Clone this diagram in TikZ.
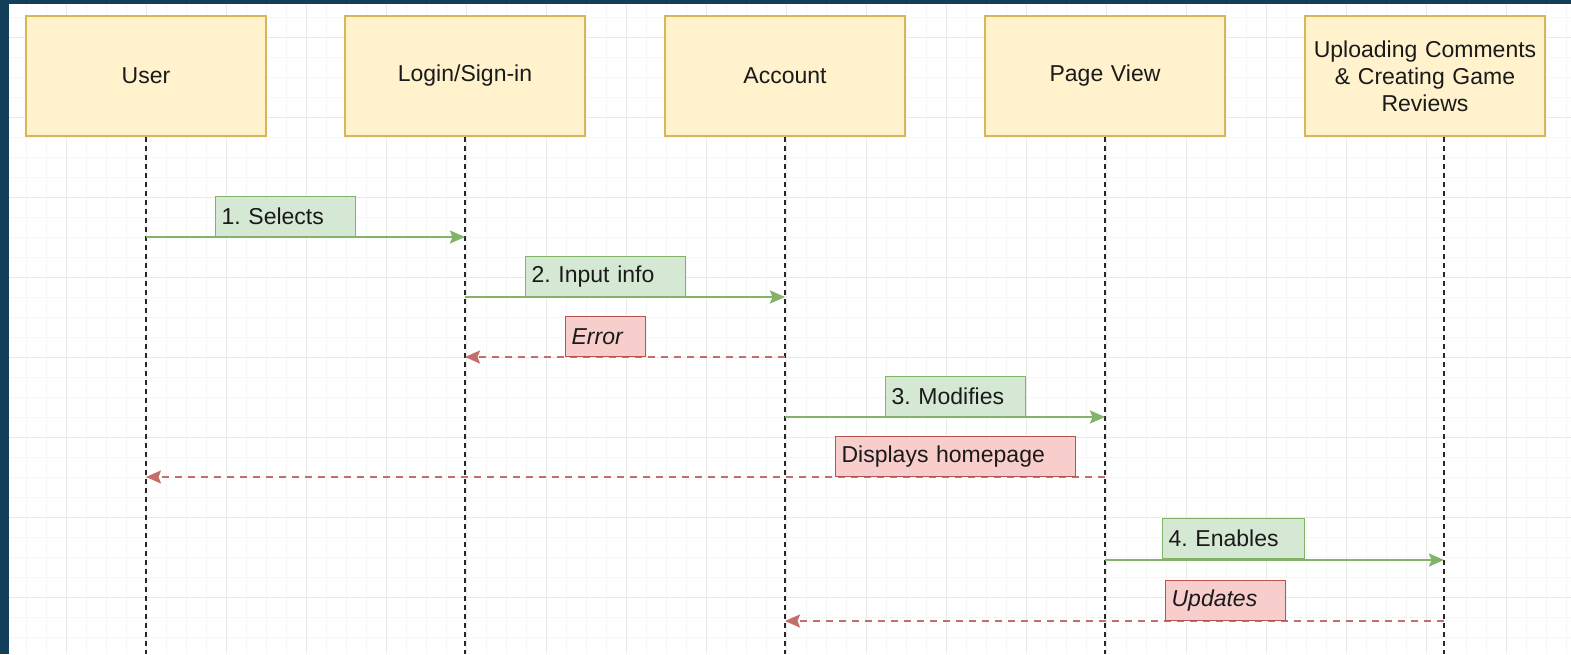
\documentclass[tikz,border=0pt]{standalone}
\usepackage{fontspec}
\setmainfont{Liberation Sans}
\usetikzlibrary{arrows.meta}
\definecolor{bgblue}{HTML}{123F5A}
\definecolor{gridmin}{HTML}{F6F6F6}
\definecolor{gridmaj}{HTML}{EAEAEA}
\definecolor{boxfill}{HTML}{FFF2CC}
\definecolor{boxdraw}{HTML}{D6B656}
\definecolor{gfill}{HTML}{D5E8D4}
\definecolor{gdraw}{HTML}{82B366}
\definecolor{rfill}{HTML}{F8CECC}
\definecolor{rdraw}{HTML}{B85450}
\definecolor{txt}{HTML}{1A1A1A}
\tikzset{
  actor/.style={draw=boxdraw, fill=boxfill, line width=1.5pt, minimum width=240pt, minimum height=120pt, text width=230pt, align=center, text=txt, font=\fontsize{23}{27}\selectfont, inner sep=0pt},
  life/.style={draw=black!85, line width=2pt, dash pattern=on 5pt off 4pt},
  glab/.style={draw=gdraw, fill=gfill, line width=1.2pt, minimum height=40pt, align=left, inner xsep=6pt, inner ysep=0pt, text=txt, font=\fontsize{23}{27}\selectfont, anchor=south west},
  rlab/.style={draw=rdraw, fill=rfill, line width=1.2pt, minimum height=40pt, align=left, inner xsep=6pt, inner ysep=0pt, text=txt, font=\fontsize{23}{27}\selectfont\itshape, anchor=south west},
  rlabup/.style={rlab, font=\fontsize{23}{27}\selectfont},
  garrow/.style={draw=gdraw, line width=2pt, -{Stealth[length=15pt,width=13pt,inset=2.5pt]}},
  rarrow/.style={draw=rdraw!85, line width=2pt, dash pattern=on 7pt off 6pt, -{Stealth[length=15pt,width=13pt,inset=2.5pt]}},
}
\begin{document}
\frenchspacing
\begin{tikzpicture}[x=1pt,y=-1pt]
\useasboundingbox (0,0) rectangle (1571,654);
\fill[bgblue] (0,0) rectangle (1571,654);
\fill[white] (9,4) rectangle (1571,654);
% grid
\foreach \x in {6,26,...,1566} \draw[gridmin, line width=1pt] (\x,4) -- (\x,654);
\foreach \y in {17,37,...,654} \draw[gridmin, line width=1pt] (9,\y) -- (1571,\y);
\foreach \x in {66,146,...,1566} \draw[gridmaj, line width=1pt] (\x,4) -- (\x,654);
\foreach \y in {37,117,...,654} \draw[gridmaj, line width=1pt] (9,\y) -- (1571,\y);
\fill[bgblue] (0,0) rectangle (9,654);
% actors
\node[actor] (user) at (146,76) {User};
\node[actor] (login) at (465,76) {Login/Sign-in};
\node[actor] (acct) at (785,76) {Account};
\node[actor] (page) at (1105,76) {Page View};
\node[actor] (upl) at (1425,76) {Uploading Comments\\\& Creating Game\\Reviews};
% lifeline anchors
\coordinate (uT) at (146,137); \coordinate (uB) at (146,654);
\coordinate (lT) at (465,137); \coordinate (lB) at (465,654);
\coordinate (aT) at (785,137); \coordinate (aB) at (785,654);
\coordinate (pT) at (1105,137); \coordinate (pB) at (1105,654);
\coordinate (cT) at (1444,137); \coordinate (cB) at (1444,654);
\draw[life] (uT) -- (uB);
\draw[life] (lT) -- (lB);
\draw[life] (aT) -- (aB);
\draw[life] (pT) -- (pB);
\draw[life] (cT) -- (cB);
% message end points
\coordinate (m1s) at (146,237); \coordinate (m1e) at (465,237);
\coordinate (m2s) at (465,297); \coordinate (m2e) at (785,297);
\coordinate (m3s) at (785,357); \coordinate (m3e) at (465,357);
\coordinate (m4s) at (785,417); \coordinate (m4e) at (1105,417);
\coordinate (m5s) at (1105,477); \coordinate (m5e) at (146,477);
\coordinate (m6s) at (1105,560); \coordinate (m6e) at (1444,560);
\coordinate (m7s) at (1444,621); \coordinate (m7e) at (785,621);
\draw[garrow] (m1s) -- (m1e);
\draw[garrow] (m2s) -- (m2e);
\draw[rarrow] (m3s) -- (m3e);
\draw[garrow] (m4s) -- (m4e);
\draw[rarrow] (m5s) -- (m5e);
\draw[garrow] (m6s) -- (m6e);
\draw[rarrow] (m7s) -- (m7e);
% labels
\node[glab, text width=128pt] (l1) at (215,237) {1. Selects};
\node[glab, text width=148pt] (l2) at (525,297) {2. Input info};
\node[rlab, text width=68pt] (l3) at (565,357) {Error};
\node[glab, text width=128pt] (l4) at (885,417) {3. Modifies};
\node[rlabup, text width=228pt] (l5) at (835,477) {Displays homepage};
\node[glab, text width=130pt] (l6) at (1162,559) {4. Enables};
\node[rlab, text width=108pt] (l7) at (1165,621) {Updates};
\end{tikzpicture}
\end{document}
